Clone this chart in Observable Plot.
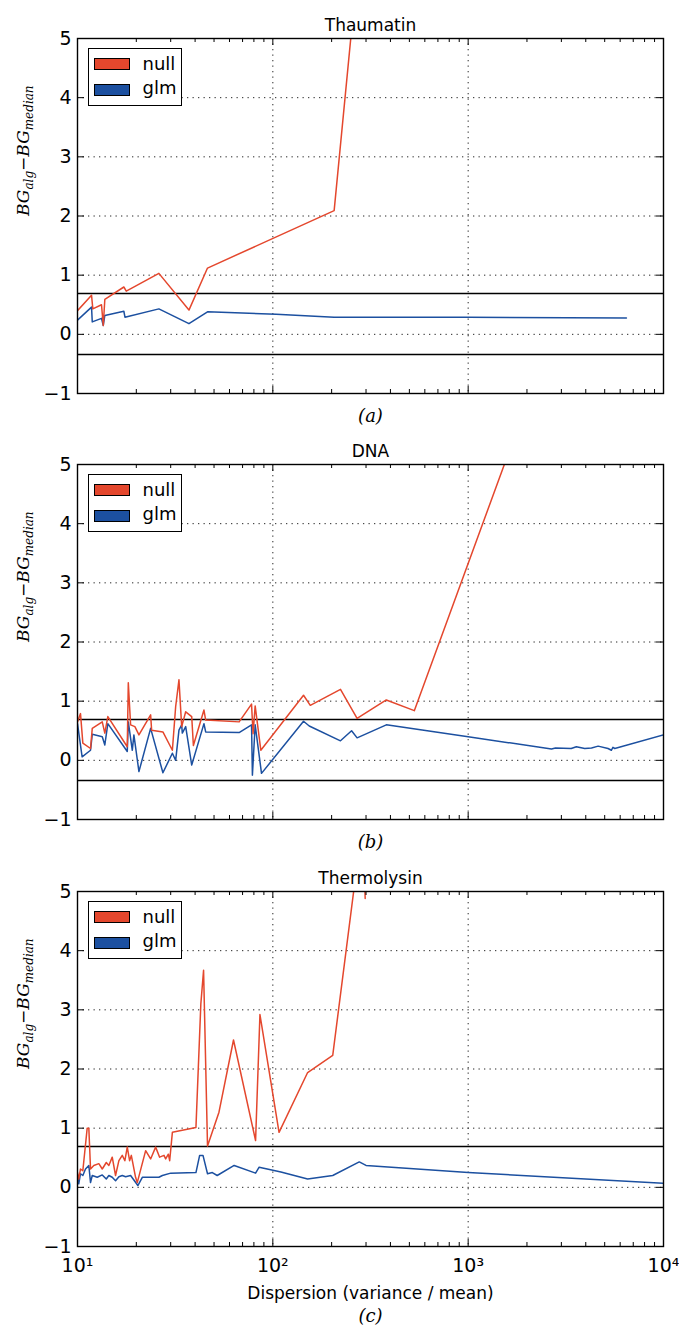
<!DOCTYPE html>
<html>
<head>
<meta charset="utf-8">
<script src="https://cdn.jsdelivr.net/npm/d3@7"></script>
<script src="https://cdn.jsdelivr.net/npm/@observablehq/plot@0.6"></script>
<style>
  html, body { margin: 0; padding: 0; background: #fff; }
  body { font-family: "DejaVu Sans", sans-serif; width: 679px; overflow: hidden; }
  .panel { position: relative; width: 679px; }
  .panel svg { display: block; }
  .legend { position: absolute; left: 88px; width: 94px; height: 58px; box-sizing: border-box;
            border: 1.5px solid #000; background: #fff; }
  .sw { position: absolute; left: 4.5px; width: 36px; height: 12px; box-sizing: border-box; border: 1px solid #000; }
  .lt { position: absolute; left: 53.5px; font-size: 18px; line-height: 18px; color: #000; }
</style>
</head>
<body>
<div id="root"></div>
<script>
// ---------- data ----------
const RED = "#e4472d";
const BLUE = "#1c50a0";

// Thaumatin
const thaumatinNullX = [10, 11.8, 11.98, 13.27, 13.55, 13.8, 17.27, 17.77, 26.1, 37.2, 46.3, 206, 268];
const thaumatinNullY = [0.40, 0.66, 0.43, 0.50, 0.15, 0.59, 0.80, 0.73, 1.03, 0.41, 1.12, 2.09, 6];
const thaumatinGlmX = [10, 11.8, 11.9, 13.27, 13.55, 13.8, 17.27, 17.5, 26.1, 37.2, 46.3, 104, 206, 1000, 6460];
const thaumatinGlmY = [0.24, 0.46, 0.21, 0.27, 0.15, 0.32, 0.39, 0.29, 0.43, 0.18, 0.38, 0.34, 0.29, 0.29, 0.275];

// DNA
const dnaNullX = [10, 10.36, 10.65, 11.66, 11.9, 13.39, 13.8, 14.3, 17.98, 18.2, 18.7, 19.67, 20.63, 23.68, 23.96,
  27.37, 30.6, 31.81, 33.07, 34.15, 35.8, 38.43, 39.2, 44.4, 45.3, 67.2, 77.8, 79.2, 81.2, 86.8,
  143.6, 155.5, 222, 270, 381, 530, 1977];
const dnaNullY = [0.65, 0.79, 0.29, 0.20, 0.54, 0.65, 0.46, 0.74, 0.23, 1.31, 0.60, 0.57, 0.43, 0.77, 0.51,
  0.48, 0.17, 0.91, 1.36, 0.57, 0.82, 0.74, 0.25, 0.85, 0.68, 0.65, 0.95, 0.45, 0.92, 0.17,
  1.10, 0.93, 1.20, 0.71, 1.02, 0.84, 6];
const dnaGlmX = [10, 10.56, 11.66, 11.9, 13.39, 13.8, 14.3, 17.98, 18.2, 19.08, 19.44, 20.63, 23.68, 27.37,
  30.6, 31.81, 33.07, 34.15, 34.4, 35.8, 38.43, 44.4, 45.3, 67.2, 77.8, 78.6, 81.2, 87.5,
  143.6, 153.6, 222, 253, 270, 381, 1000, 2670, 2800, 3370, 3580, 3950, 4280, 4630, 5200, 5410, 5510, 5630, 10000];
const dnaGlmY = [0.62, 0.06, 0.17, 0.44, 0.40, 0.26, 0.62, 0.15, 0.65, 0.17, 0.43, -0.19, 0.54, -0.21,
  0.12, 0.0, 0.51, 0.60, 0.46, 0.57, -0.08, 0.62, 0.48, 0.47, 0.60, -0.25, 0.60, -0.22,
  0.66, 0.58, 0.33, 0.50, 0.38, 0.60, 0.40, 0.19, 0.21, 0.20, 0.23, 0.20, 0.21, 0.24, 0.20, 0.17, 0.22, 0.20, 0.43];

// Thermolysin
const thermoNullX = [10, 10.15, 10.36, 10.65, 11.21, 11.43, 11.66, 12.12, 12.86, 13.39, 14.04, 14.47, 15.06, 15.66,
  16.29, 16.95, 17.48, 17.98, 18.48, 18.86, 19.83, 20.23, 22.33, 23.68, 25.12, 26.33, 27.72, 28.27,
  29.18, 29.64, 30.6, 40.4, 42.8, 44.2, 46.3, 53, 62.9, 81.6, 85.9, 107.6, 150.7, 202.6, 289, 297];
const thermoNullY = [0.25, 0.14, 0.31, 0.28, 1.0, 1.0, 0.31, 0.37, 0.40, 0.31, 0.42, 0.37, 0.51, 0.20,
  0.45, 0.54, 0.45, 0.68, 0.45, 0.54, 0.17, 0.08, 0.62, 0.48, 0.68, 0.51, 0.54, 0.48,
  0.56, 0.45, 0.93, 1.01, 3.1, 3.67, 0.70, 1.27, 2.49, 0.79, 2.92, 0.93, 1.94, 2.23, 6.22, 4.88];
const thermoGlmX = [10, 10.15, 10.36, 10.65, 10.99, 11.43, 11.66, 11.9, 12.62, 13.39, 14.04, 14.47, 15.06, 15.66,
  16.29, 16.95, 17.63, 18.7, 20.37, 21.47, 26.1, 27.2, 30.0, 40.4, 42.2, 43.9, 46.3, 49.0, 51.9,
  63.4, 81.6, 85.1, 110, 150.7, 202.6, 277, 300, 1000, 10000];
const thermoGlmY = [0.17, 0.06, 0.23, 0.20, 0.31, 0.37, 0.08, 0.20, 0.17, 0.21, 0.14, 0.20, 0.17, 0.11,
  0.18, 0.20, 0.18, 0.20, 0.03, 0.17, 0.17, 0.20, 0.24, 0.25, 0.54, 0.54, 0.23, 0.25, 0.20,
  0.37, 0.24, 0.34, 0.26, 0.14, 0.20, 0.43, 0.37, 0.25, 0.07];

// axes / reference lines
const xDomain = [10, 10000];
const yDomain = [-1, 5];
const xMajor = [10, 100, 1000, 10000];
const xTickLabels = ["10¹", "10²", "10³", "10⁴"];
const xMinor = [20, 30, 40, 50, 60, 70, 80, 90, 200, 300, 400, 500, 600, 700, 800, 900,
  2000, 3000, 4000, 5000, 6000, 7000, 8000, 9000];
const yTicks = [-1, 0, 1, 2, 3, 4, 5];
const yTickLabels = ["\u22121", "0", "1", "2", "3", "4", "5"];
const yGrid = [0, 1, 2, 3, 4];
const xGrid = [100, 1000];
const refLines = [0.69, -0.34];
const seriesNames = ["null", "glm"];
const titles = ["Thaumatin", "DNA", "Thermolysin"];
const captions = ["(a)", "(b)", "(c)"];
const xLabel = "Dispersion (variance / mean)";

// ---------- drawing ----------
const W = 679, ML = 77, MR = 16;
const SERIF = "DejaVu Serif";

function zip(xs, ys) { return xs.map((x, i) => ({x, y: ys[i]})); }

function panel(cfg) {
  const fw = W - ML - MR;
  const fh = cfg.height - cfg.marginTop - cfg.marginBottom;
  const grid = {stroke: "#000", strokeWidth: 1, strokeDasharray: "1.3,4.2", strokeOpacity: 0.85};
  const marks = [
    Plot.ruleY(yGrid, {y: d => d, ...grid}),
    Plot.ruleX(xGrid, {x: d => d, ...grid}),
    Plot.ruleY(refLines, {y: d => d, stroke: "#000", strokeWidth: 1.5}),
    Plot.line(zip(cfg.glmX, cfg.glmY), {x: "x", y: "y", stroke: BLUE, strokeWidth: 1.5, clip: true}),
    Plot.line(zip(cfg.nullX, cfg.nullY), {x: "x", y: "y", stroke: RED, strokeWidth: 1.5, clip: true}),
    Plot.tickX(xMajor, {x: d => d, insetBottom: fh - 7, stroke: "#000"}),
    Plot.tickX(xMajor, {x: d => d, insetTop: fh - 7, stroke: "#000"}),
    Plot.tickX(xMinor, {x: d => d, insetBottom: fh - 4, stroke: "#000"}),
    Plot.tickX(xMinor, {x: d => d, insetTop: fh - 4, stroke: "#000"}),
    Plot.tickY(yTicks, {y: d => d, insetRight: fw - 7, stroke: "#000"}),
    Plot.tickY(yTicks, {y: d => d, insetLeft: fw - 7, stroke: "#000"}),
    Plot.frame({stroke: "#000", strokeWidth: 1.4}),
    Plot.axisY(yTicks, {tickSize: 0, tickPadding: 6, fontSize: 19, label: null,
      tickFormat: (d) => yTickLabels[yTicks.indexOf(d)]}),
    Plot.text([cfg.title], {frameAnchor: "top", lineAnchor: "bottom", dy: -8, fontSize: 17, fill: "#000"}),
    Plot.text([cfg.caption], {frameAnchor: "bottom", lineAnchor: "bottom", dy: cfg.capDy, fontSize: 18,
      fontFamily: SERIF, fontStyle: "italic", fill: "#000"}),
    Plot.text(["YLABEL"], {frameAnchor: "left", rotate: -90, lineAnchor: "bottom", dx: -49, fontSize: 17,
      fontFamily: SERIF, fontStyle: "italic", fill: "#000"})
  ];
  if (cfg.showX) {
    marks.push(Plot.axisX(xMajor, {tickSize: 0, tickPadding: 12, fontSize: 19, label: null,
      tickFormat: (d) => xTickLabels[xMajor.indexOf(d)]}));
    marks.push(Plot.text([xLabel], {frameAnchor: "bottom", lineAnchor: "bottom", dy: 52, fontSize: 17, fill: "#000"}));
  }
  const svg = Plot.plot({
    width: W, height: cfg.height,
    marginLeft: ML, marginRight: MR, marginTop: cfg.marginTop, marginBottom: cfg.marginBottom,
    style: {fontFamily: "DejaVu Sans", background: "#fff", color: "#000", overflow: "visible"},
    x: {type: "log", domain: xDomain, label: null, ...(cfg.showX ? {} : {axis: null})},
    y: {domain: yDomain, label: null},
    marks
  });
  // math-style y label with subscripts
  const t = [...svg.querySelectorAll("text")].find(e => e.textContent === "YLABEL");
  if (t) {
    t.textContent = "";
    const parts = [["BG", 0, 17, "italic"], ["alg", 4, 12, "italic"], ["\u2212", -4, 17, "normal"],
                   ["BG", 0, 17, "italic"], ["median", 4, 12, "italic"]];
    for (const [s, dy, fs, st] of parts) {
      const ts = document.createElementNS("http://www.w3.org/2000/svg", "tspan");
      ts.setAttribute("dy", dy);
      ts.setAttribute("font-size", fs);
      ts.setAttribute("font-style", st);
      ts.textContent = s;
      t.appendChild(ts);
    }
  }
  const div = document.createElement("div");
  div.className = "panel";
  div.appendChild(svg);
  // legend (inside the axes, upper left)
  const lg = document.createElement("div");
  lg.className = "legend";
  lg.style.top = (cfg.marginTop + 10) + "px";
  const cols = [RED, BLUE];
  seriesNames.forEach((name, i) => {
    const sw = document.createElement("div");
    sw.className = "sw";
    sw.style.top = (8.5 + i * 26) + "px";
    sw.style.background = cols[i];
    lg.appendChild(sw);
    const lt = document.createElement("div");
    lt.className = "lt";
    lt.style.top = (5.5 + i * 24) + "px";
    lt.textContent = name;
    lg.appendChild(lt);
  });
  div.appendChild(lg);
  return div;
}

const root = document.getElementById("root");
root.appendChild(panel({title: titles[0], caption: captions[0], nullX: thaumatinNullX, nullY: thaumatinNullY,
  glmX: thaumatinGlmX, glmY: thaumatinGlmY, height: 430, marginTop: 38, marginBottom: 37, capDy: 28, showX: false}));
root.appendChild(panel({title: titles[1], caption: captions[1], nullX: dnaNullX, nullY: dnaNullY,
  glmX: dnaGlmX, glmY: dnaGlmY, height: 430, marginTop: 34, marginBottom: 41, capDy: 28, showX: false}));
root.appendChild(panel({title: titles[2], caption: captions[2], nullX: thermoNullX, nullY: thermoNullY,
  glmX: thermoGlmX, glmY: thermoGlmY, height: 466, marginTop: 31, marginBottom: 80, capDy: 75, showX: true}));
</script>
</body>
</html>
